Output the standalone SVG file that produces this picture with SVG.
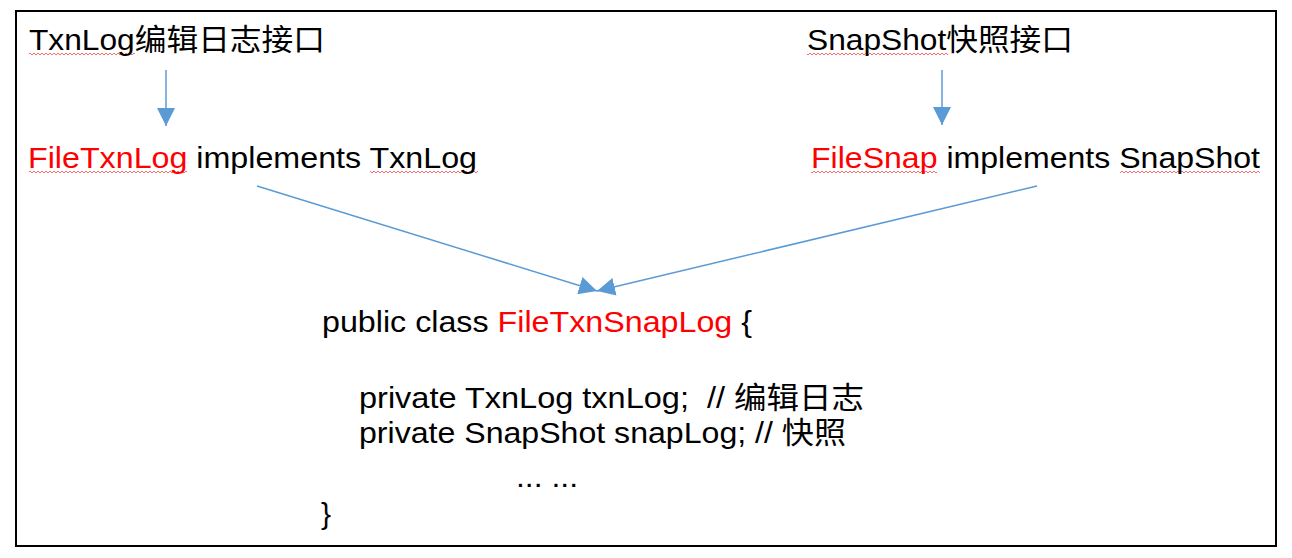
<svg xmlns="http://www.w3.org/2000/svg" width="1292" height="558" viewBox="0 0 1292 558">
<style>
.t{font-family:"Liberation Sans","Noto Sans CJK SC",sans-serif;font-size:30px;fill:#000;white-space:pre}
.r{fill:#ff0000}
.conn{stroke:#5b9bd5;stroke-width:1.5;fill:none}
.sq{fill:none;stroke:#ff6b6b;stroke-width:1}
</style>
<defs>
<marker id="ah" markerUnits="userSpaceOnUse" markerWidth="18" markerHeight="18" viewBox="0 0 16 16" refX="16" refY="8" orient="auto">
<path d="M0,0 L16,8 L0,16 Z" fill="#5b9bd5"/>
</marker>
<pattern id="wv1" patternUnits="userSpaceOnUse" width="4" height="4" patternTransform="translate(0,52)">
<path d="M0,3 L2,1 L4,3" class="sq"/>
</pattern>
<pattern id="wv2" patternUnits="userSpaceOnUse" width="4" height="4" patternTransform="translate(0,170)">
<path d="M0,3 L2,1 L4,3" class="sq"/>
</pattern>
</defs>
<rect x="16" y="11" width="1260" height="535" fill="#fff" stroke="#000" stroke-width="2"/>
<g id="spellcheck">
<rect x="29" y="52" width="106" height="4" fill="url(#wv1)"/>
<rect x="807" y="52" width="141" height="4" fill="url(#wv1)"/>
<rect x="29" y="170" width="158" height="4" fill="url(#wv2)"/>
<rect x="370" y="170" width="108" height="4" fill="url(#wv2)"/>
<rect x="811" y="170" width="126" height="4" fill="url(#wv2)"/>
<rect x="1120" y="170" width="140" height="4" fill="url(#wv2)"/>
</g>
<g id="txnlog-interface"><text class="t" x="29" y="50" textLength="296" lengthAdjust="spacingAndGlyphs">TxnLog编辑日志接口</text></g>
<g id="snapshot-interface"><text class="t" x="807" y="50" textLength="266" lengthAdjust="spacingAndGlyphs">SnapShot快照接口</text></g>
<g id="filetxnlog"><text class="t" x="28" y="168" textLength="449" lengthAdjust="spacingAndGlyphs"><tspan class="r">FileTxnLog</tspan> implements TxnLog</text></g>
<g id="filesnap"><text class="t" x="811" y="168" textLength="449" lengthAdjust="spacingAndGlyphs"><tspan class="r">FileSnap</tspan> implements SnapShot</text></g>
<g id="filetxnsnaplog">
<text class="t" x="322" y="332" textLength="430" lengthAdjust="spacingAndGlyphs">public class <tspan class="r">FileTxnSnapLog</tspan> {</text>
<text class="t" x="359" y="408" textLength="505" lengthAdjust="spacingAndGlyphs">private TxnLog txnLog;  // 编辑日志</text>
<text class="t" x="359" y="443" textLength="487" lengthAdjust="spacingAndGlyphs">private SnapShot snapLog; // 快照</text>
<text class="t" x="516" y="487" textLength="62" lengthAdjust="spacingAndGlyphs">... ...</text>
<text class="t" x="321" y="524">}</text>
</g>
<g id="connectors">
<line class="conn" x1="166" y1="70" x2="166" y2="126" marker-end="url(#ah)"/>
<line class="conn" x1="942" y1="70" x2="942" y2="125" marker-end="url(#ah)"/>
<line class="conn" x1="257" y1="186" x2="597" y2="291" marker-end="url(#ah)"/>
<line class="conn" x1="1037" y1="186" x2="597" y2="291" marker-end="url(#ah)"/>
</g>
</svg>
